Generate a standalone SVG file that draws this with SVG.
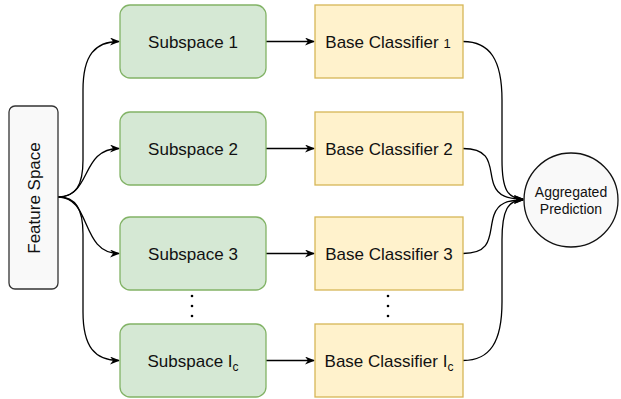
<svg xmlns="http://www.w3.org/2000/svg" width="621" height="399" viewBox="0 0 621 399">
<defs>
<style>
.t{font-family:"Liberation Sans",Arial,Helvetica,sans-serif;font-size:17px;fill:#111;text-anchor:middle}
.g rect{fill:#d5e8d4;stroke:#82b366;stroke-width:1.3}
.y rect{fill:#fff2cc;stroke:#d6b656;stroke-width:1.3}
.c path{fill:none;stroke:#000;stroke-width:1.3;marker-end:url(#ah)}
.dot{fill:#000}
</style>
<marker id="ah" viewBox="0 0 10 8" refX="9" refY="4" markerWidth="10" markerHeight="8" markerUnits="userSpaceOnUse" orient="auto">
<path d="M0,0 L10,4 L0,8 L3,4 Z" fill="#000"/>
</marker>
</defs>
<rect width="621" height="399" fill="#fff"/>
<g id="connectors" class="c">
<path d="M58,197 C76,197 83,185 83,160 L83,90 C83,55 95,41.5 119,41.5"/>
<path d="M58,197 C92,197 80,148.5 119,148.5"/>
<path d="M58,197 C92,197 80,253.5 119,253.5"/>
<path d="M58,197 C76,197 83,209 83,234 L83,312 C83,347 95,360.5 119,360.5"/>
<path d="M266,41.5 L314,41.5"/>
<path d="M266,148.5 L314,148.5"/>
<path d="M266,253.5 L314,253.5"/>
<path d="M266,360.5 L314,360.5"/>
<path d="M463,41.5 C490,41.5 502,60 502,100 L502,160 C502,190 508,199 523,199"/>
<path d="M463,148.5 C495,148.5 488,170 494,185 C498,196 508,199 523,199"/>
<path d="M463,253.5 C495,253.5 488,232 494,215 C498,203 508,200 523,200"/>
<path d="M463,360.5 C490,360.5 502,342 502,302 L502,240 C502,210 508,200 523,200"/>
</g>
<g id="feature-space">
<rect x="9" y="106" width="49" height="183" rx="6" fill="#f9f9f9" stroke="#333" stroke-width="1.3"/>
<text class="t" transform="translate(34,198) rotate(-90)" x="0" y="6">Feature Space</text>
</g>
<g id="subspace-1" class="g"><rect x="120" y="5" width="146" height="73" rx="10"/><text class="t" x="193" y="48">Subspace 1</text></g>
<g id="subspace-2" class="g"><rect x="120" y="112" width="146" height="73" rx="10"/><text class="t" x="193" y="155">Subspace 2</text></g>
<g id="subspace-3" class="g"><rect x="120" y="217" width="146" height="73" rx="10"/><text class="t" x="193" y="260">Subspace 3</text></g>
<g id="subspace-lc" class="g"><rect x="120" y="324" width="146" height="73" rx="10"/><text class="t" x="193" y="367">Subspace I<tspan font-size="12" dy="4">c</tspan></text></g>
<g id="base-1" class="y"><rect x="315" y="5" width="148" height="73"/><text class="t" x="388" y="48">Base Classifier <tspan font-size="13">1</tspan></text></g>
<g id="base-2" class="y"><rect x="315" y="112" width="148" height="73"/><text class="t" x="389" y="155">Base Classifier 2</text></g>
<g id="base-3" class="y"><rect x="315" y="217" width="148" height="73"/><text class="t" x="389" y="260">Base Classifier 3</text></g>
<g id="base-lc" class="y"><rect x="315" y="324" width="148" height="73"/><text class="t" x="389" y="367">Base Classifier I<tspan font-size="12" dy="4">c</tspan></text></g>
<g id="aggregated">
<circle cx="571" cy="200" r="47" fill="#f9f9f9" stroke="#111" stroke-width="1.3"/>
<text class="t" style="font-size:14px" x="571" y="197">Aggregated</text>
<text class="t" style="font-size:14px" x="571" y="214">Prediction</text>
</g>
<g id="ellipsis">
<circle class="dot" cx="192" cy="296" r="1.3"/><circle class="dot" cx="192" cy="306" r="1.3"/><circle class="dot" cx="192" cy="316" r="1.3"/>
<circle class="dot" cx="388" cy="296" r="1.3"/><circle class="dot" cx="388" cy="306" r="1.3"/><circle class="dot" cx="388" cy="316" r="1.3"/>
</g>
</svg>
